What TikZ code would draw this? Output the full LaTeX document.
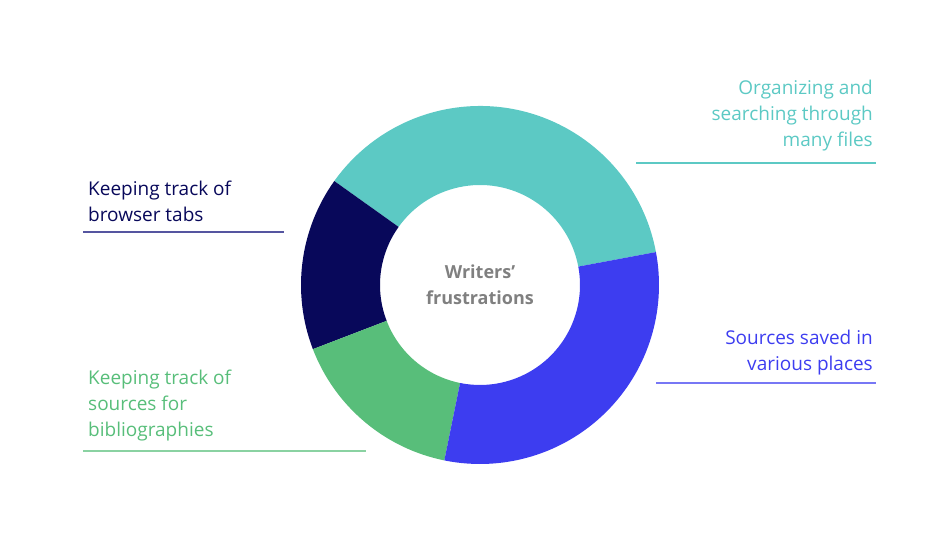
\documentclass[tikz,border=0pt]{standalone}
\usepackage{fontspec}
\setmainfont{Open Sans}
\begin{document}
\begin{tikzpicture}[x=1pt,y=1pt,
  lbl/.style={inner sep=0pt, font=\fontsize{19}{26}\selectfont},
  rule/.style={line width=1.2pt}]
\definecolor{cteal}{HTML}{5CC9C4}
\definecolor{cnavy}{HTML}{08085A}
\definecolor{cgreen}{HTML}{58BE7A}
\definecolor{cblue}{HTML}{3D3DF0}
\definecolor{cgray}{HTML}{808080}
\definecolor{lnavy}{HTML}{5555A0}
\useasboundingbox (0,0) rectangle (949,539);
\coordinate (c) at (480,254);
% donut segments
\newcommand{\seg}[3]{\fill[#3] (c) ++(#1:179) arc[start angle=#1,end angle=#2,radius=179] -- ++(#2:-79) arc[start angle=#2,end angle=#1,radius=100] -- cycle;}
\seg{10.6}{144.5}{cteal}
\seg{144.5}{201}{cnavy}
\seg{201}{258.5}{cgreen}
\seg{258.5}{370.6}{cblue}
% center text
\node[lbl, align=center, text=cgray, font=\fontsize{18}{26}\selectfont\bfseries] (ctr) at (480,254) {Writers’\\frustrations};
% labels
\node[lbl, align=right, anchor=east, text=cteal] (tl) at (873,423) {Organizing and\\searching through\\many files};
\coordinate (tl1) at (636,376); \coordinate (tl2) at (876,376);
\draw[rule, cteal] (tl1) -- (tl2);
\node[lbl, align=left, anchor=west, text=cnavy] (nl) at (88,338) {Keeping track of\\browser tabs};
\coordinate (nl1) at (83,307); \coordinate (nl2) at (284,307);
\draw[rule, lnavy] (nl1) -- (nl2);
\node[lbl, align=right, anchor=east, text=cblue] (bl) at (873,186) {Sources saved in\\various places};
\coordinate (bl1) at (656,156); \coordinate (bl2) at (876,156);
\draw[rule, cblue!70] (bl1) -- (bl2);
\node[lbl, align=left, anchor=west, text=cgreen] (gl) at (88,133) {Keeping track of\\sources for\\bibliographies};
\coordinate (gl1) at (83,88); \coordinate (gl2) at (366,88);
\draw[rule, cgreen!70] (gl1) -- (gl2);
\end{tikzpicture}
\end{document}
